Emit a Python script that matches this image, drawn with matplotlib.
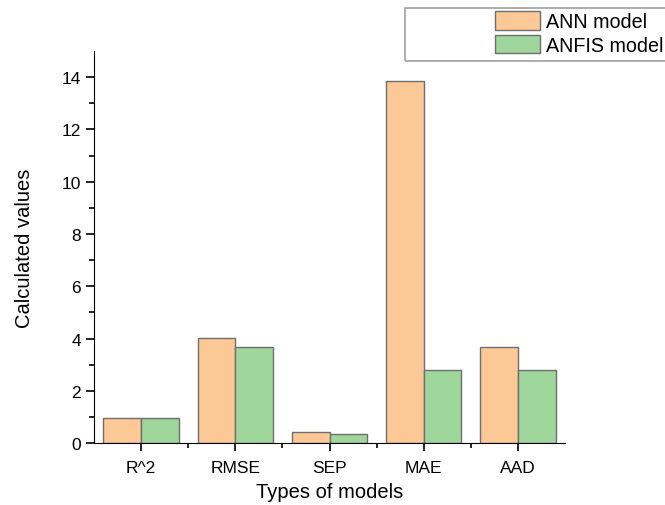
import numpy as np
import matplotlib
matplotlib.use("Agg")
import matplotlib.pyplot as plt
from matplotlib.patches import Rectangle

categories = ["R^2", "RMSE", "SEP", "MAE", "AAD"]
ann_values = [0.95, 4.01, 0.43, 13.87, 3.69]
anfis_values = [0.95, 3.69, 0.33, 2.81, 2.81]

plt.rcParams["font.family"] = ["Liberation Sans", "DejaVu Sans"]

fig = plt.figure(figsize=(6.65, 5.06), dpi=100)
ax = fig.add_axes([0.1414, 0.1225, 0.7082, 0.7745])

x = np.arange(1, len(categories) + 1)
w = 0.4
ax.bar(x - w / 2, ann_values, w, color="#fcc896", edgecolor="#6e6e6e",
       linewidth=1.0, label="ANN model")
ax.bar(x + w / 2, anfis_values, w, color="#9ed69b", edgecolor="#6e6e6e",
       linewidth=1.0, label="ANFIS model")

ax.set_xlim(0.5, 5.5)
ax.set_ylim(0, 15)
ax.set_xticks(x)
ax.set_xticklabels(categories)
ax.set_xticks(x[:-1] + 0.5, minor=True)
ax.set_yticks(np.arange(0, 15, 2))
ax.set_yticks(np.arange(1, 15, 2), minor=True)

for side in ("top", "right"):
    ax.spines[side].set_visible(False)
ax.tick_params(which="major", length=6, width=1.2, labelsize=12.5, direction="out")
ax.tick_params(which="minor", length=3.5, width=1.2, direction="out")
ax.tick_params(axis="x", pad=6)

ax.set_xlabel("Types of models", fontsize=14.5, labelpad=5)
ax.set_ylabel("Calculated values", fontsize=14.5, labelpad=20)

# legend frame runs off the right edge, like the original
fig.patches.append(Rectangle((405 / 665, 1 - 62 / 506), 270 / 665, 53 / 506,
                             transform=fig.transFigure, fill=False,
                             edgecolor="#a0a0a0", linewidth=1.2))
fig.legend(loc="upper left", bbox_to_anchor=(495 / 665, 1 - 12 / 506),
           frameon=False, fontsize=14.2, handlelength=2.28, handleheight=1.07,
           handletextpad=0.3, labelspacing=0.2, borderpad=0,
           borderaxespad=0)

fig.savefig("out.png", dpi=100)
plt.close(fig)
